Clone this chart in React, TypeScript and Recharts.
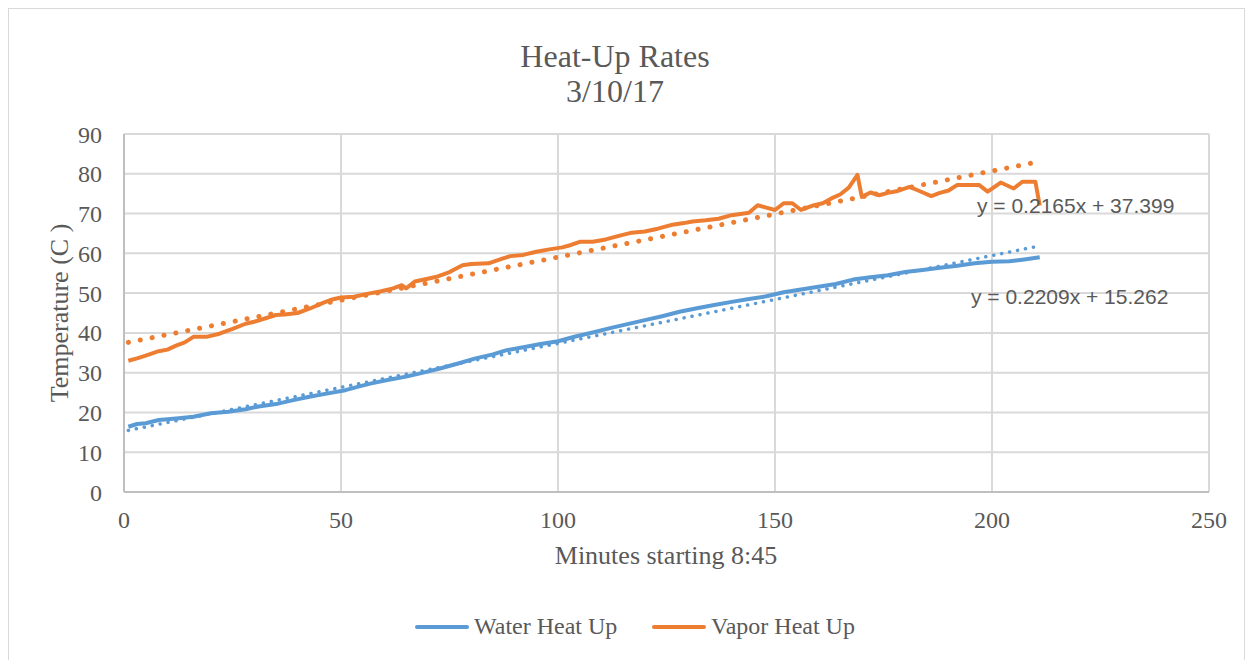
import React from 'react';
import { LineChart, Line, XAxis, YAxis, CartesianGrid, Legend } from 'recharts';

const chartTitle = ['Heat-Up Rates', '3/10/17'];
const xAxisTitle = 'Minutes starting 8:45';
const yAxisTitle = 'Temperature (C )';
const xTicks = [0, 50, 100, 150, 200, 250];
const yTicks = [0, 10, 20, 30, 40, 50, 60, 70, 80, 90];

const waterMinutes = [1, 3, 5, 8, 12, 16, 20, 24, 28, 31, 35, 39, 43, 47, 51, 54, 57, 61, 65, 69, 73, 77, 81, 85, 88, 92, 96, 100, 104, 108, 112, 116, 120, 124, 128, 132, 136, 140, 144, 148, 152, 156, 160, 164, 168, 172, 176, 180, 184, 188, 192, 196, 200, 204, 207, 211];
const waterTemps = [16.4, 17.1, 17.3, 18.1, 18.5, 18.9, 19.8, 20.2, 20.8, 21.5, 22.1, 23.1, 24, 24.8, 25.6, 26.5, 27.3, 28.2, 29, 30, 31.1, 32.3, 33.6, 34.6, 35.6, 36.4, 37.2, 37.9, 39.1, 40.1, 41.2, 42.2, 43.2, 44.2, 45.3, 46.2, 47, 47.8, 48.5, 49.2, 50.2, 50.9, 51.6, 52.3, 53.4, 54, 54.5, 55.3, 55.8, 56.4, 56.9, 57.5, 57.9, 58, 58.4, 59];

const vaporMinutes = [1, 3, 5, 8, 10, 12, 14, 16, 19, 22, 25, 28, 30, 33, 35, 37, 40, 43, 46, 48, 50, 53, 56, 59, 62, 64, 65, 67, 70, 72, 75, 78, 80, 84, 87, 89, 92, 95, 98, 101, 103, 105, 108, 111, 114, 117, 120, 123, 126, 129, 131, 134, 137, 140, 144, 146, 148, 150, 152, 154, 156, 159, 161, 163, 165, 167, 169, 170, 172, 174, 176, 178, 181, 183, 186, 188, 190, 192, 197, 199, 202, 205, 207, 210, 211];
const vaporTemps = [33, 33.6, 34.3, 35.4, 35.8, 36.8, 37.6, 39, 39, 39.8, 41, 42.3, 42.8, 43.8, 44.5, 44.6, 45, 46.2, 47.6, 48.4, 48.9, 49.1, 49.8, 50.4, 51.2, 52, 51.2, 52.9, 53.6, 54.1, 55.3, 57, 57.3, 57.5, 58.6, 59.3, 59.6, 60.4, 61, 61.5, 62.1, 62.9, 62.9, 63.5, 64.4, 65.2, 65.5, 66.2, 67.1, 67.6, 68, 68.3, 68.7, 69.6, 70.2, 72.1, 71.5, 70.9, 72.6, 72.6, 70.9, 72.1, 72.6, 73.8, 74.8, 76.5, 79.7, 74.2, 75.3, 74.6, 75.2, 75.6, 76.7, 75.8, 74.4, 75.2, 75.8, 77.2, 77.2, 75.5, 77.8, 76.3, 78, 78, 72];

// Linear trendline end points (from the equations shown on the chart)
const trendMinutes = [1, 211];
const waterTrendTemps = [15.48, 61.87];
const vaporTrendTemps = [37.62, 83.08];
const waterEquation = 'y = 0.2209x + 15.262';
const vaporEquation = 'y = 0.2165x + 37.399';

const seriesNames = ['Water Heat Up', 'Vapor Heat Up'];
const BLUE = '#5B9BD5';
const ORANGE = '#ED7D31';
const TEXT = '#595959';
const SERIF = '"Liberation Serif", "Times New Roman", serif';
const SANS = '"Liberation Sans", Arial, sans-serif';

const zip = (xs: number[], ys: number[]) => xs.map((m, i) => ({ m, v: ys[i] }));
const waterData = zip(waterMinutes, waterTemps);
const vaporData = zip(vaporMinutes, vaporTemps);
const waterTrend = zip(trendMinutes, waterTrendTemps);
const vaporTrend = zip(trendMinutes, vaporTrendTemps);

const LegendContent = () => (
  <div style={{ position: 'relative', height: 34, fontFamily: SERIF, fontSize: 24, color: TEXT }}>
    <svg style={{ position: 'absolute', left: 406, top: 12 }} width={56} height={6}>
      <line x1={3} y1={3} x2={53} y2={3} stroke={BLUE} strokeWidth={4} strokeLinecap="round" />
    </svg>
    <div style={{ position: 'absolute', left: 466, top: -1, whiteSpace: 'nowrap', lineHeight: '30px' }}>{seriesNames[0]}</div>
    <svg style={{ position: 'absolute', left: 643, top: 12 }} width={56} height={6}>
      <line x1={3} y1={3} x2={53} y2={3} stroke={ORANGE} strokeWidth={4} strokeLinecap="round" />
    </svg>
    <div style={{ position: 'absolute', left: 703, top: -1, whiteSpace: 'nowrap', lineHeight: '30px' }}>{seriesNames[1]}</div>
  </div>
);

export default function App() {
  const W = 1237;
  const H = 652;
  return (
    <div style={{ position: 'relative', width: W, height: H, background: '#fff' }}>
      <LineChart width={W} height={H} margin={{ top: 126, right: 36, left: 56, bottom: 94 }}>
        <CartesianGrid stroke="#d9d9d9" strokeWidth={2} horizontalValues={yTicks} verticalValues={xTicks} />
        <XAxis
          dataKey="m"
          type="number"
          domain={[0, 250]}
          ticks={xTicks}
          allowDataOverflow
          height={40}
          tickLine={false}
          tickSize={0}
          tickMargin={19}
          axisLine={{ stroke: '#bfbfbf', strokeWidth: 2 }}
          tick={{ fill: TEXT, fontSize: 24, fontFamily: SERIF }}
        />
        <YAxis
          dataKey="v"
          type="number"
          domain={[0, 90]}
          ticks={yTicks}
          width={60}
          tickLine={false}
          tickSize={0}
          tickMargin={22}
          axisLine={{ stroke: '#bfbfbf', strokeWidth: 2 }}
          tick={{ fill: TEXT, fontSize: 24, fontFamily: SERIF }}
        />
        <Line data={waterTrend} dataKey="v" type="linear" stroke={BLUE} strokeWidth={3.5} strokeDasharray="0.1 8" strokeLinecap="round" dot={false} isAnimationActive={false} legendType="none" />
        <Line data={vaporTrend} dataKey="v" type="linear" stroke={ORANGE} strokeWidth={5} strokeDasharray="0.1 12" strokeLinecap="round" dot={false} isAnimationActive={false} legendType="none" />
        <Line data={waterData} dataKey="v" name={seriesNames[0]} type="linear" stroke={BLUE} strokeWidth={4} strokeLinejoin="round" dot={false} isAnimationActive={false} />
        <Line data={vaporData} dataKey="v" name={seriesNames[1]} type="linear" stroke={ORANGE} strokeWidth={4} strokeLinejoin="round" dot={false} isAnimationActive={false} />
        <Legend content={<LegendContent />} wrapperStyle={{ left: 0, top: 604, width: W }} />
      </LineChart>
      <div style={{ position: 'absolute', left: -1, top: -1, width: W - 2, height: H + 10, border: '2px solid #d9d9d9', pointerEvents: 'none' }} />
      <div style={{ position: 'absolute', left: 407, top: 31, width: 400, textAlign: 'center', fontFamily: SERIF, fontSize: 32, lineHeight: '35px', color: TEXT }}>
        <div>{chartTitle[0]}</div>
        <div>{chartTitle[1]}</div>
      </div>
      <div style={{ position: 'absolute', left: 458, top: 533, width: 400, textAlign: 'center', fontFamily: SERIF, fontSize: 26, lineHeight: '30px', color: TEXT }}>
        {xAxisTitle}
      </div>
      <div style={{ position: 'absolute', left: 52 - 150, top: 305 - 15, width: 300, height: 30, textAlign: 'center', fontFamily: SERIF, fontSize: 26, lineHeight: '30px', color: TEXT, transform: 'rotate(-90deg)' }}>
        {yAxisTitle}
      </div>
      <div style={{ position: 'absolute', left: 969, top: 186, whiteSpace: 'nowrap', fontFamily: SANS, fontSize: 21, lineHeight: '24px', color: TEXT }}>
        {vaporEquation}
      </div>
      <div style={{ position: 'absolute', left: 963, top: 277, whiteSpace: 'nowrap', fontFamily: SANS, fontSize: 21, lineHeight: '24px', color: TEXT }}>
        {waterEquation}
      </div>
    </div>
  );
}
